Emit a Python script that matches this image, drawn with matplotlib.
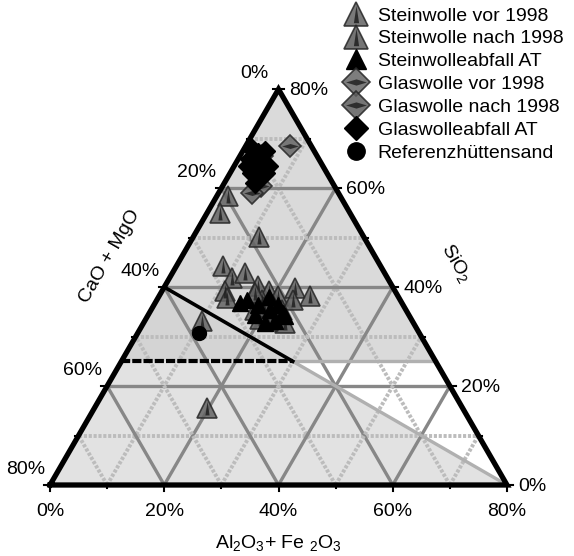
import numpy as np
import matplotlib.pyplot as plt
from matplotlib.patches import Polygon

plt.rcParams['font.family'] = ['Liberation Sans', 'DejaVu Sans']
plt.rcParams['mathtext.fontset'] = 'custom'
plt.rcParams['mathtext.rm'] = 'Liberation Sans'
plt.rcParams['mathtext.it'] = 'Liberation Sans:italic'

TOTAL = 80
H = np.sqrt(3) / 2

# Al2O3+Fe2O3 / SiO2 in % (CaO+MgO is the rest up to 80)
sw_vor_al = [1.9, 2.3, 11.5, 8.2, 10.9, 12.7, 11.0, 12.1, 23.0, 26.4, 10.0, 19.7, 16.3, 18.6, 20.8]
sw_vor_si = [58.4, 55.0, 50.2, 44.3, 41.9, 42.9, 39.3, 37.7, 39.9, 38.3, 33.2, 15.5, 40.3, 39.3, 38.3]
sw_nach_al = [23.9, 18.5, 20.8, 23.0, 20.2, 22.6, 18.3, 24.7, 21.6, 20.0, 16.5, 19.5]
sw_nach_si = [37.3, 37.3, 36.3, 35.3, 34.9, 33.6, 35.3, 32.8, 33.2, 33.6, 38.8, 36.0]
sw_abf_al = [14.9, 15.9, 18.8, 21.2, 22.8, 23.5, 18.3, 20.9, 21.8, 19.2, 24.1]
sw_abf_si = [36.7, 37.3, 34.3, 32.8, 33.2, 34.7, 36.3, 35.3, 36.3, 38.1, 34.1]
gw_vor_al = [7.8, 6.6, 5.9]
gw_vor_si = [68.5, 60.5, 59.0]
gw_nach_al = [4.3, 3.9]
gw_nach_si = [63.5, 66.5]
gw_abf_al = [1.4, 2.9, 3.9, 2.1, 4.4, 3.8, 5.9, 3.8, 5.5, 5.4, 6.1, 2.4]
gw_abf_si = [67.9, 67.1, 67.5, 65.9, 65.5, 64.5, 64.5, 63.1, 62.5, 61.1, 63.1, 64.5]
hs_al = [10.7]
hs_si = [30.8]

# boundary lines of the marked field
field_al = [0, 30, 80]
field_si = [40, 25, 0]
dash_al = [0, 30, 55]
dash_si = [25, 25, 25]

ticks = [0, 20, 40, 60, 80]
labels = ['0%', '20%', '40%', '60%', '80%']
names = ['Steinwolle vor 1998', 'Steinwolle nach 1998', 'Steinwolleabfall AT',
         'Glaswolle vor 1998', 'Glaswolle nach 1998', 'Glaswolleabfall AT', 'Referenzhüttensand']


def xy(al, si):
    al = np.asarray(al, float)
    si = np.asarray(si, float)
    return al + si / 2, si * H


fig = plt.figure(figsize=(5.74, 5.56), dpi=100)
ax = fig.add_axes([0, 0, 1, 1])
u = 457 / 80
ax.set_xlim(-50 / u, (574 - 50) / u)
ax.set_ylim(-71 / u, (556 - 71) / u)
ax.axis('off')

# background fills
tri = np.array([xy(0, 0), xy(80, 0), xy(0, 80)])
ax.add_patch(Polygon(tri, closed=True, fc='#e2e2e2', ec='none', zorder=0))
ax.add_patch(Polygon([xy(0, 80), xy(0, 40), xy(30, 25), xy(55, 25)], closed=True,
                     fc='#dadada', ec='none', zorder=0))
ax.add_patch(Polygon([xy(0, 40), xy(30, 25), xy(0, 25)], closed=True,
                     fc='#d4d4d4', ec='none', zorder=0))
ax.add_patch(Polygon([xy(30, 25), xy(55, 25), xy(80, 0)], closed=True,
                     fc='white', ec='none', zorder=0))

# grid
for v in range(10, 80, 10):
    if v % 20 == 0:
        kw = dict(color='#878787', lw=2.4, zorder=1)
    else:
        kw = dict(color='#bcbcbc', lw=2.8, ls=(0, (0.8, 0.45)), zorder=1)
    for a, s in (([0, 80 - v], [v, v]), ([v, v], [0, 80 - v]), ([80 - v, 0], [0, 80 - v])):
        x, y = xy(a, s)
        ax.plot(x, y, **kw)

# field lines
x, y = xy(field_al, field_si)
ax.plot(x[:2], y[:2], color='black', lw=2.6, zorder=2)
ax.plot(x[1:], y[1:], color='#b0b0b0', lw=2.4, zorder=1.5)
x, y = xy(dash_al, dash_si)
ax.plot(x[:2], y[:2], color='black', lw=3, ls=(0, (2.2, 0.5)), zorder=2)
ax.plot(x[1:], y[1:], color='#b0b0b0', lw=2.4, zorder=1.5)

# frame
x, y = xy([0, 80, 0, 0], [0, 0, 80, 0])
ax.plot(x, y, color='black', lw=3.8, solid_joinstyle='miter', zorder=3)

# ticks
for v in range(0, 81, 10):
    ln = 1.0 if v % 20 == 0 else 0.6
    x, y = xy(v, 0)
    ax.plot([x, x], [y, y - ln], color='black', lw=1.5, zorder=3)
    x, y = xy(0, 80 - v)
    ax.plot([x, x - ln], [y, y], color='black', lw=1.5, zorder=3)
    x, y = xy(80 - v, v)
    ax.plot([x, x + ln], [y, y], color='black', lw=1.5, zorder=3)

for t, lab in zip(ticks, labels):
    x, y = xy(t, 0)
    ax.text(x, y - 4.6, lab, ha='center', va='center', fontsize=14)
    x, y = xy(0, 80 - t)
    ax.text(x - 4.3, y + 2.8, lab, ha='center', va='center', fontsize=14)
    x, y = xy(80 - t, t)
    ax.text(x + 1.9, y - 0.3, lab, ha='left', va='center', fontsize=14)

ax.text(39.9, -10.2, r'Al$_2$O$_3$+ Fe $_2$O$_3$', ha='center', va='center', fontsize=14)
ax.text(10.5, 40.0, 'CaO + MgO', ha='center', va='center', rotation=60, fontsize=14)
ax.text(71.0, 38.8, r'SiO$_2$', ha='center', va='center', rotation=-60, fontsize=14)


# data points
def cone(al, si, fc, label):
    x, y = xy(al, si)
    h1, = ax.plot(x, y, ls='none', marker='^', ms=14, mfc=fc, mec='#262626', mew=1.2,
                  alpha=0.85, zorder=5, label=label)
    h2, = ax.plot(x, y, ls='none', marker=[(0, 1), (-0.3, -1), (0.3, -1)], ms=10,
                  mfc='#202020', mec='none', alpha=0.85, zorder=5)
    return (h1, h2)


def gem(al, si, fc, label):
    x, y = xy(al, si)
    h1, = ax.plot(x, y, ls='none', marker='D', ms=11, mfc=fc, mec='#262626', mew=1.2,
                  alpha=0.85, zorder=5, label=label)
    h2, = ax.plot(x, y, ls='none', marker=[(-1, 0), (0, 0.3), (1, 0), (0, -0.3)], ms=12,
                  mfc='#222222', mec='none', alpha=0.85, zorder=5)
    return (h1, h2)


handles = []
handles.append(cone(sw_vor_al, sw_vor_si, '#636363', names[0]))
handles.append(cone(sw_nach_al, sw_nach_si, '#5c5c5c', names[1]))
x, y = xy(sw_abf_al, sw_abf_si)
handles.append(ax.plot(x, y, ls='none', marker='^', ms=11, color='black', zorder=6)[0])
handles.append(gem(gw_vor_al, gw_vor_si, '#666666', names[3]))
handles.append(gem(gw_nach_al, gw_nach_si, '#5e5e5e', names[4]))
x, y = xy(gw_abf_al, gw_abf_si)
handles.append(ax.plot(x, y, ls='none', marker='D', ms=10, color='black', zorder=6)[0])
x, y = xy(hs_al, hs_si)
handles.append(ax.plot(x, y, ls='none', marker='o', ms=10, color='black', zorder=6)[0])

ax.legend(handles, names, loc='upper right', bbox_to_anchor=(1.005, 1.012), frameon=False,
          fontsize=14, handlelength=1.3, handletextpad=0.45, labelspacing=0.27, borderpad=0.2,
          markerscale=1.25)

fig.savefig('out.png', dpi=100)
